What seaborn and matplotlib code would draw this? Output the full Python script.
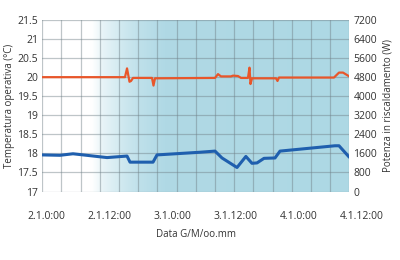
import numpy as np
import pandas as pd
import matplotlib
matplotlib.use("Agg")
import matplotlib.pyplot as plt
import seaborn as sns
from matplotlib.colors import LinearSegmentedColormap

# ---- data (hours from 2.1 0:00) ----
orange_h = [-0.84, 14.91, 15.30, 15.77, 16.06, 16.44, 20.06, 20.34, 20.63, 32.06,
            32.63, 33.20, 35.10, 35.49, 36.44, 37.01, 38.34, 38.63, 38.82, 39.10,
            43.68, 43.96, 44.25, 54.72, 55.68, 56.44, 57.64]
orange_t = [20.00, 20.00, 20.23, 19.88, 19.90, 19.98, 19.98, 19.78, 19.97, 19.98,
            20.08, 20.02, 20.02, 20.04, 20.03, 19.98, 19.98, 20.25, 19.82, 19.97,
            19.97, 19.90, 19.99, 19.99, 20.12, 20.12, 20.02]
blue_h = [-0.84, 2.53, 5.01, 11.49, 15.30, 15.87, 20.25, 21.01, 29.20, 32.06,
          33.39, 36.25, 37.94, 39.10, 40.06, 41.39, 43.49, 44.44, 54.91, 55.68, 57.64]
blue_t = [17.96, 17.95, 17.99, 17.89, 17.93, 17.77, 17.77, 17.96, 18.03, 18.06,
          17.88, 17.63, 17.92, 17.74, 17.75, 17.87, 17.88, 18.06, 18.20, 18.20, 17.90]
x_tick_hours = [0, 12, 24, 36, 48, 60]
x_tick_labels = ["2.1.0:00", "2.1.12:00", "3.1.0:00", "3.1.12:00", "4.1.0:00", "4.1.12:00"]
temp_ticks = [17, 17.5, 18, 18.5, 19, 19.5, 20, 20.5, 21, 21.5]
power_ticks = [0, 800, 1600, 2400, 3200, 4000, 4800, 5600, 6400, 7200]

sns.set_style("white")
plt.rcParams["font.family"] = ["Open Sans", "DejaVu Sans"]
plt.rcParams["font.size"] = 7

TXT = "#333333"
fig = plt.figure(figsize=(4, 2.6), dpi=100)
L, B = 42.3 / 400, 1 - 191.5 / 260
W, H = 307 / 400, 171.5 / 260
ax = fig.add_axes([L, B, W, H])

xmin, xmax = -0.84, 57.64
ymin, ymax = 17, 21.5

# background gradient
cmap = LinearSegmentedColormap.from_list(
    "bg", [(0, "#ffffff"), (0.16, "#ffffff"), (0.20, "#e6f3f7"), (0.26, "#d0e9f0"),
           (0.32, "#bee0ea"), (0.40, "#b0d9e5"), (1, "#add8e4")])
grad = np.linspace(0, 1, 600)[None, :]
ax.imshow(grad, aspect="auto", cmap=cmap, extent=[xmin, xmax, ymin, ymax],
          zorder=0, interpolation="bilinear")

df_o = pd.DataFrame({"h": orange_h, "t": orange_t})
df_b = pd.DataFrame({"h": blue_h, "t": blue_t})
sns.lineplot(data=df_o, x="h", y="t", ax=ax, color="#e8562a", lw=1.6, zorder=3, sort=False)
sns.lineplot(data=df_b, x="h", y="t", ax=ax, color="#1f5fae", lw=2.2, zorder=3, sort=False)

ax.set_xlim(xmin, xmax)
ax.set_ylim(ymin, ymax)
ax.set_xticks(np.linspace(xmin, xmax, 17))
ax.set_xticklabels([])
ax.set_yticks(temp_ticks)
ax.set_yticklabels([f"{v:g}" for v in temp_ticks])
ax.grid(True, color="#6f7f86", alpha=0.45, lw=0.9, zorder=1)
ax.set_axisbelow(False)
for s in ax.spines.values():
    s.set_visible(False)
ax.tick_params(axis="both", length=0, colors=TXT, labelsize=7.5, pad=3)
ax.set_xlabel("Data G/M/oo.mm", color=TXT, fontsize=7, labelpad=24)
ax.set_ylabel("Temperatura operativa (°C)", color=TXT, fontsize=7, labelpad=2)

ax2 = ax.twinx()
ax2.set_ylim(0, 7200)
ax2.set_yticks(power_ticks)
ax2.set_yticklabels([str(v) for v in power_ticks])
ax2.grid(False)
for s in ax2.spines.values():
    s.set_visible(False)
ax2.tick_params(axis="y", length=0, colors=TXT, labelsize=7.5, pad=3)
ax2.set_ylabel("Potenza in riscaldamento (W)", color=TXT, fontsize=7, labelpad=4)

# time labels axis
axl = fig.add_axes([46.7 / 400, B, 315 / 400, 0.001])
axl.set_xlim(0, 60)
axl.set_xticks(x_tick_hours)
axl.set_xticklabels(x_tick_labels)
axl.set_yticks([])
axl.patch.set_alpha(0)
for s in axl.spines.values():
    s.set_visible(False)
axl.tick_params(axis="x", length=0, colors=TXT, labelsize=7.5, pad=14)

fig.savefig("out.png", dpi=100)
